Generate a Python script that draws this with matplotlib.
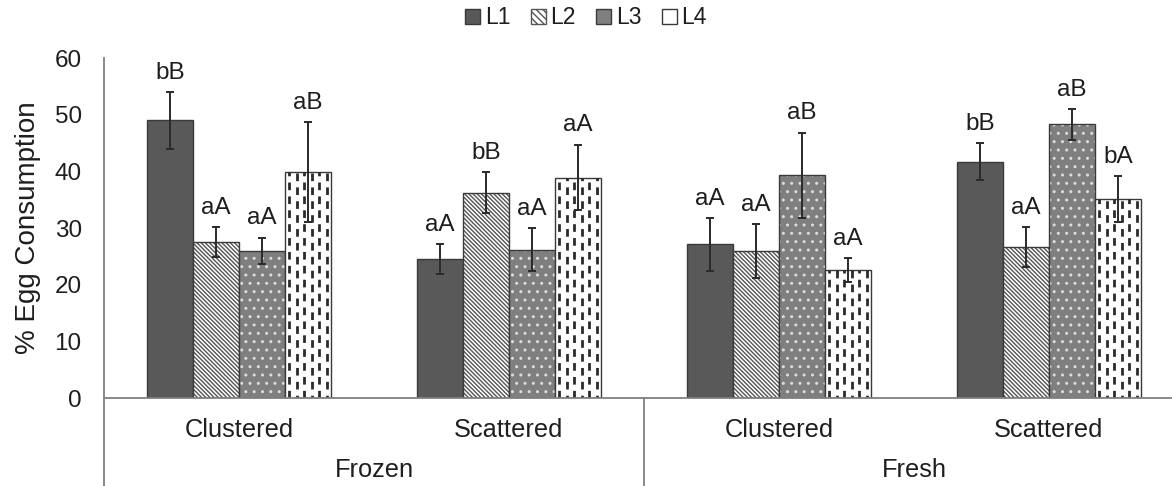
import numpy as np
import matplotlib
matplotlib.use("Agg")
import matplotlib.pyplot as plt
from matplotlib.patches import Patch

plt.rcParams['font.family'] = ['Liberation Sans', 'DejaVu Sans']
plt.rcParams['lines.scale_dashes'] = False
plt.rcParams['hatch.linewidth'] = 1.0

# data
subcats = ["Clustered", "Scattered", "Clustered", "Scattered"]
groups = ["Frozen", "Fresh"]
series = ["L1", "L2", "L3", "L4"]

l1 = [49.0, 24.5, 27.1, 41.7]
l2 = [27.5, 36.2, 25.9, 26.6]
l3 = [26.0, 26.2, 39.3, 48.3]
l4 = [39.9, 38.9, 22.6, 35.1]

l1_err = [5.0, 2.7, 4.6, 3.3]
l2_err = [2.6, 3.6, 4.8, 3.5]
l3_err = [2.3, 3.8, 7.5, 2.7]
l4_err = [8.8, 5.8, 2.1, 4.1]

l1_lab = ["bB", "aA", "aA", "bB"]
l2_lab = ["aA", "bB", "aA", "aA"]
l3_lab = ["aA", "aA", "aB", "aB"]
l4_lab = ["aB", "aA", "aA", "bA"]

vals = [l1, l2, l3, l4]
errs = [l1_err, l2_err, l3_err, l4_err]
labs = [l1_lab, l2_lab, l3_lab, l4_lab]

dark = '#595959'
mid = '#7f7f7f'
edge = '#3a3a3a'
axcol = '#808080'
txt = '#1e1e1e'

fig = plt.figure(figsize=(11.72, 4.86), dpi=100)
ax = fig.add_axes([0.0887, 0.181, 0.9215, 0.6996])

x = np.arange(len(subcats))
w = 0.17
offs = (np.arange(4) - 1.5) * w

for i in range(4):
    xs = x + offs[i]
    if i == 0:
        bars = ax.bar(xs, vals[i], w, color=dark, edgecolor=edge, lw=1)
    elif i == 1:
        ax.bar(xs, vals[i], w, color='white', edgecolor='#555555',
               hatch='\\' * 8, lw=0)
        bars = ax.bar(xs, vals[i], w, color='none', edgecolor=edge, lw=1)
    elif i == 2:
        ax.bar(xs, vals[i], w, color=mid, edgecolor='#dcdcdc', hatch='..', lw=0)
        bars = ax.bar(xs, vals[i], w, color='none', edgecolor=edge, lw=1)
    else:
        bars = ax.bar(xs, vals[i], w, color='white', edgecolor=edge, lw=1)
        # dashed vertical stripes, clipped to each bar
        for b in bars:
            bx = b.get_x()
            cols = np.linspace(bx + w * 0.09, bx + w * 0.91, 6)
            for k, cx in enumerate(cols):
                ln, = ax.plot([cx, cx], [0, b.get_height()], color='#2a2a2a',
                              lw=2.0, ls=(3.5 * (k % 2), (5.5, 4.5)),
                              solid_capstyle='butt', dash_capstyle='butt')
                ln.set_clip_path(b)
    ax.errorbar(xs, vals[i], yerr=errs[i], fmt='none', ecolor='#2a2a2a',
                elinewidth=1.4, capsize=3, capthick=1.4)
    for xi, v, e, s in zip(xs, vals[i], errs[i], labs[i]):
        ax.annotate(s, (xi, v + e), xytext=(0, 6), textcoords='offset points',
                    ha='center', va='bottom', fontsize=17.5, color=txt)

ax.set_xlim(-0.5, 3.5)
ax.set_ylim(0, 60)
ax.set_yticks(np.arange(0, 61, 10))
ax.tick_params(axis='y', length=0, pad=16, labelsize=17.5, labelcolor=txt)
ax.set_xticks([])
for sp in ['top', 'right', 'left']:
    ax.spines[sp].set_visible(False)
ax.spines['bottom'].set_color(axcol)
ax.spines['bottom'].set_linewidth(1.3)
ax.set_ylabel('% Egg Consumption', fontsize=20, color=txt, labelpad=10)

# left axis line running down through the category rows, and group dividers
trans = ax.get_xaxis_transform()
for xv in [-0.5, 1.5, 3.5]:
    y0 = 1.0 if xv == -0.5 else 0.0
    ax.plot([xv, xv], [y0, -0.26], color=axcol, lw=1.3, transform=trans,
            clip_on=False)

for xi, s in zip(x, subcats):
    ax.text(xi, -0.095, s, transform=trans, ha='center', va='center',
            fontsize=18.3, color=txt)
for gi, g in enumerate(groups):
    ax.text(gi * 2 + 0.5, -0.212, g, transform=trans, ha='center',
            va='center', fontsize=18.3, color=txt)

handles = [
    Patch(facecolor=dark, edgecolor=edge),
    Patch(facecolor='white', edgecolor='#555555', hatch='\\' * 5),
    Patch(facecolor=mid, edgecolor=edge),
    Patch(facecolor='white', edgecolor=edge),
]
fig.legend(handles, series, loc='center', bbox_to_anchor=(0.5, 0.963),
           ncol=4, frameon=False, fontsize=16.5, handlelength=0.65,
           handleheight=0.65, handletextpad=0.2, columnspacing=0.9,
           labelcolor=txt)

fig.savefig('out.png', dpi=100)
